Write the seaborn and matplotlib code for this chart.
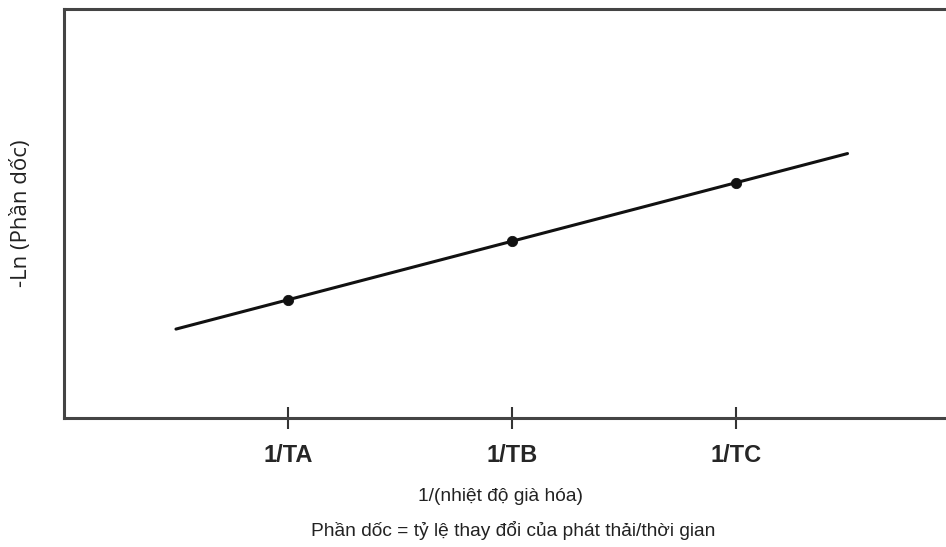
import matplotlib
matplotlib.use("Agg")
import matplotlib.pyplot as plt
import seaborn as sns
import pandas as pd

# data (arbitrary units, no numeric ticks shown)
tick_labels = ["1/TA", "1/TB", "1/TC"]
point_x = [1, 2, 3]
point_y = [1.0, 2.0, 3.0]
line_x = [0.5, 3.5]
line_y = [0.5, 3.5]

sns.set_style("white")
plt.rcParams["font.family"] = ["Liberation Sans", "DejaVu Sans"]

fig = plt.figure(figsize=(9.46, 5.47), dpi=100)
ax = fig.add_axes([0.0677, 0.2358, 0.9323, 0.7477])

pts = pd.DataFrame({"x": point_x, "y": point_y})
fit = pd.DataFrame({"x": line_x, "y": line_y})

sns.lineplot(data=fit, x="x", y="y", color="#111111", linewidth=2.2, ax=ax)
sns.scatterplot(data=pts, x="x", y="y", color="#111111", s=55,
                edgecolor="#111111", zorder=3, ax=ax)

ax.set_xlim(0, 3.94)
ax.set_ylim(-1.02, 5.97)

ax.set_xticks(point_x)
ax.set_xticklabels(tick_labels, fontsize=17, fontweight="bold")
ax.set_yticks([])
ax.tick_params(axis="x", direction="inout", length=16, width=1.5,
               color="#333333", pad=11, bottom=True)

for side in ["left", "top", "bottom"]:
    ax.spines[side].set_color("#444444")
    ax.spines[side].set_linewidth(2.2)
ax.spines["right"].set_visible(False)

ax.set_xlabel("")
ax.set_ylabel("")
fig.text(0.023, 0.61, "-Ln (Phần dốc)", rotation=90, ha="center", va="center",
         fontsize=16, family=["Open Sans", "DejaVu Sans"], color="#222222")

fig.text(0.529, 0.092, "1/(nhiệt độ già hóa)", ha="center", va="center",
         fontsize=13.8, color="#222222")
fig.text(0.543, 0.031, "Phần dốc = tỷ lệ thay đổi của phát thải/thời gian",
         ha="center", va="center", fontsize=13.8, color="#222222")

fig.savefig("out.png", dpi=100)
